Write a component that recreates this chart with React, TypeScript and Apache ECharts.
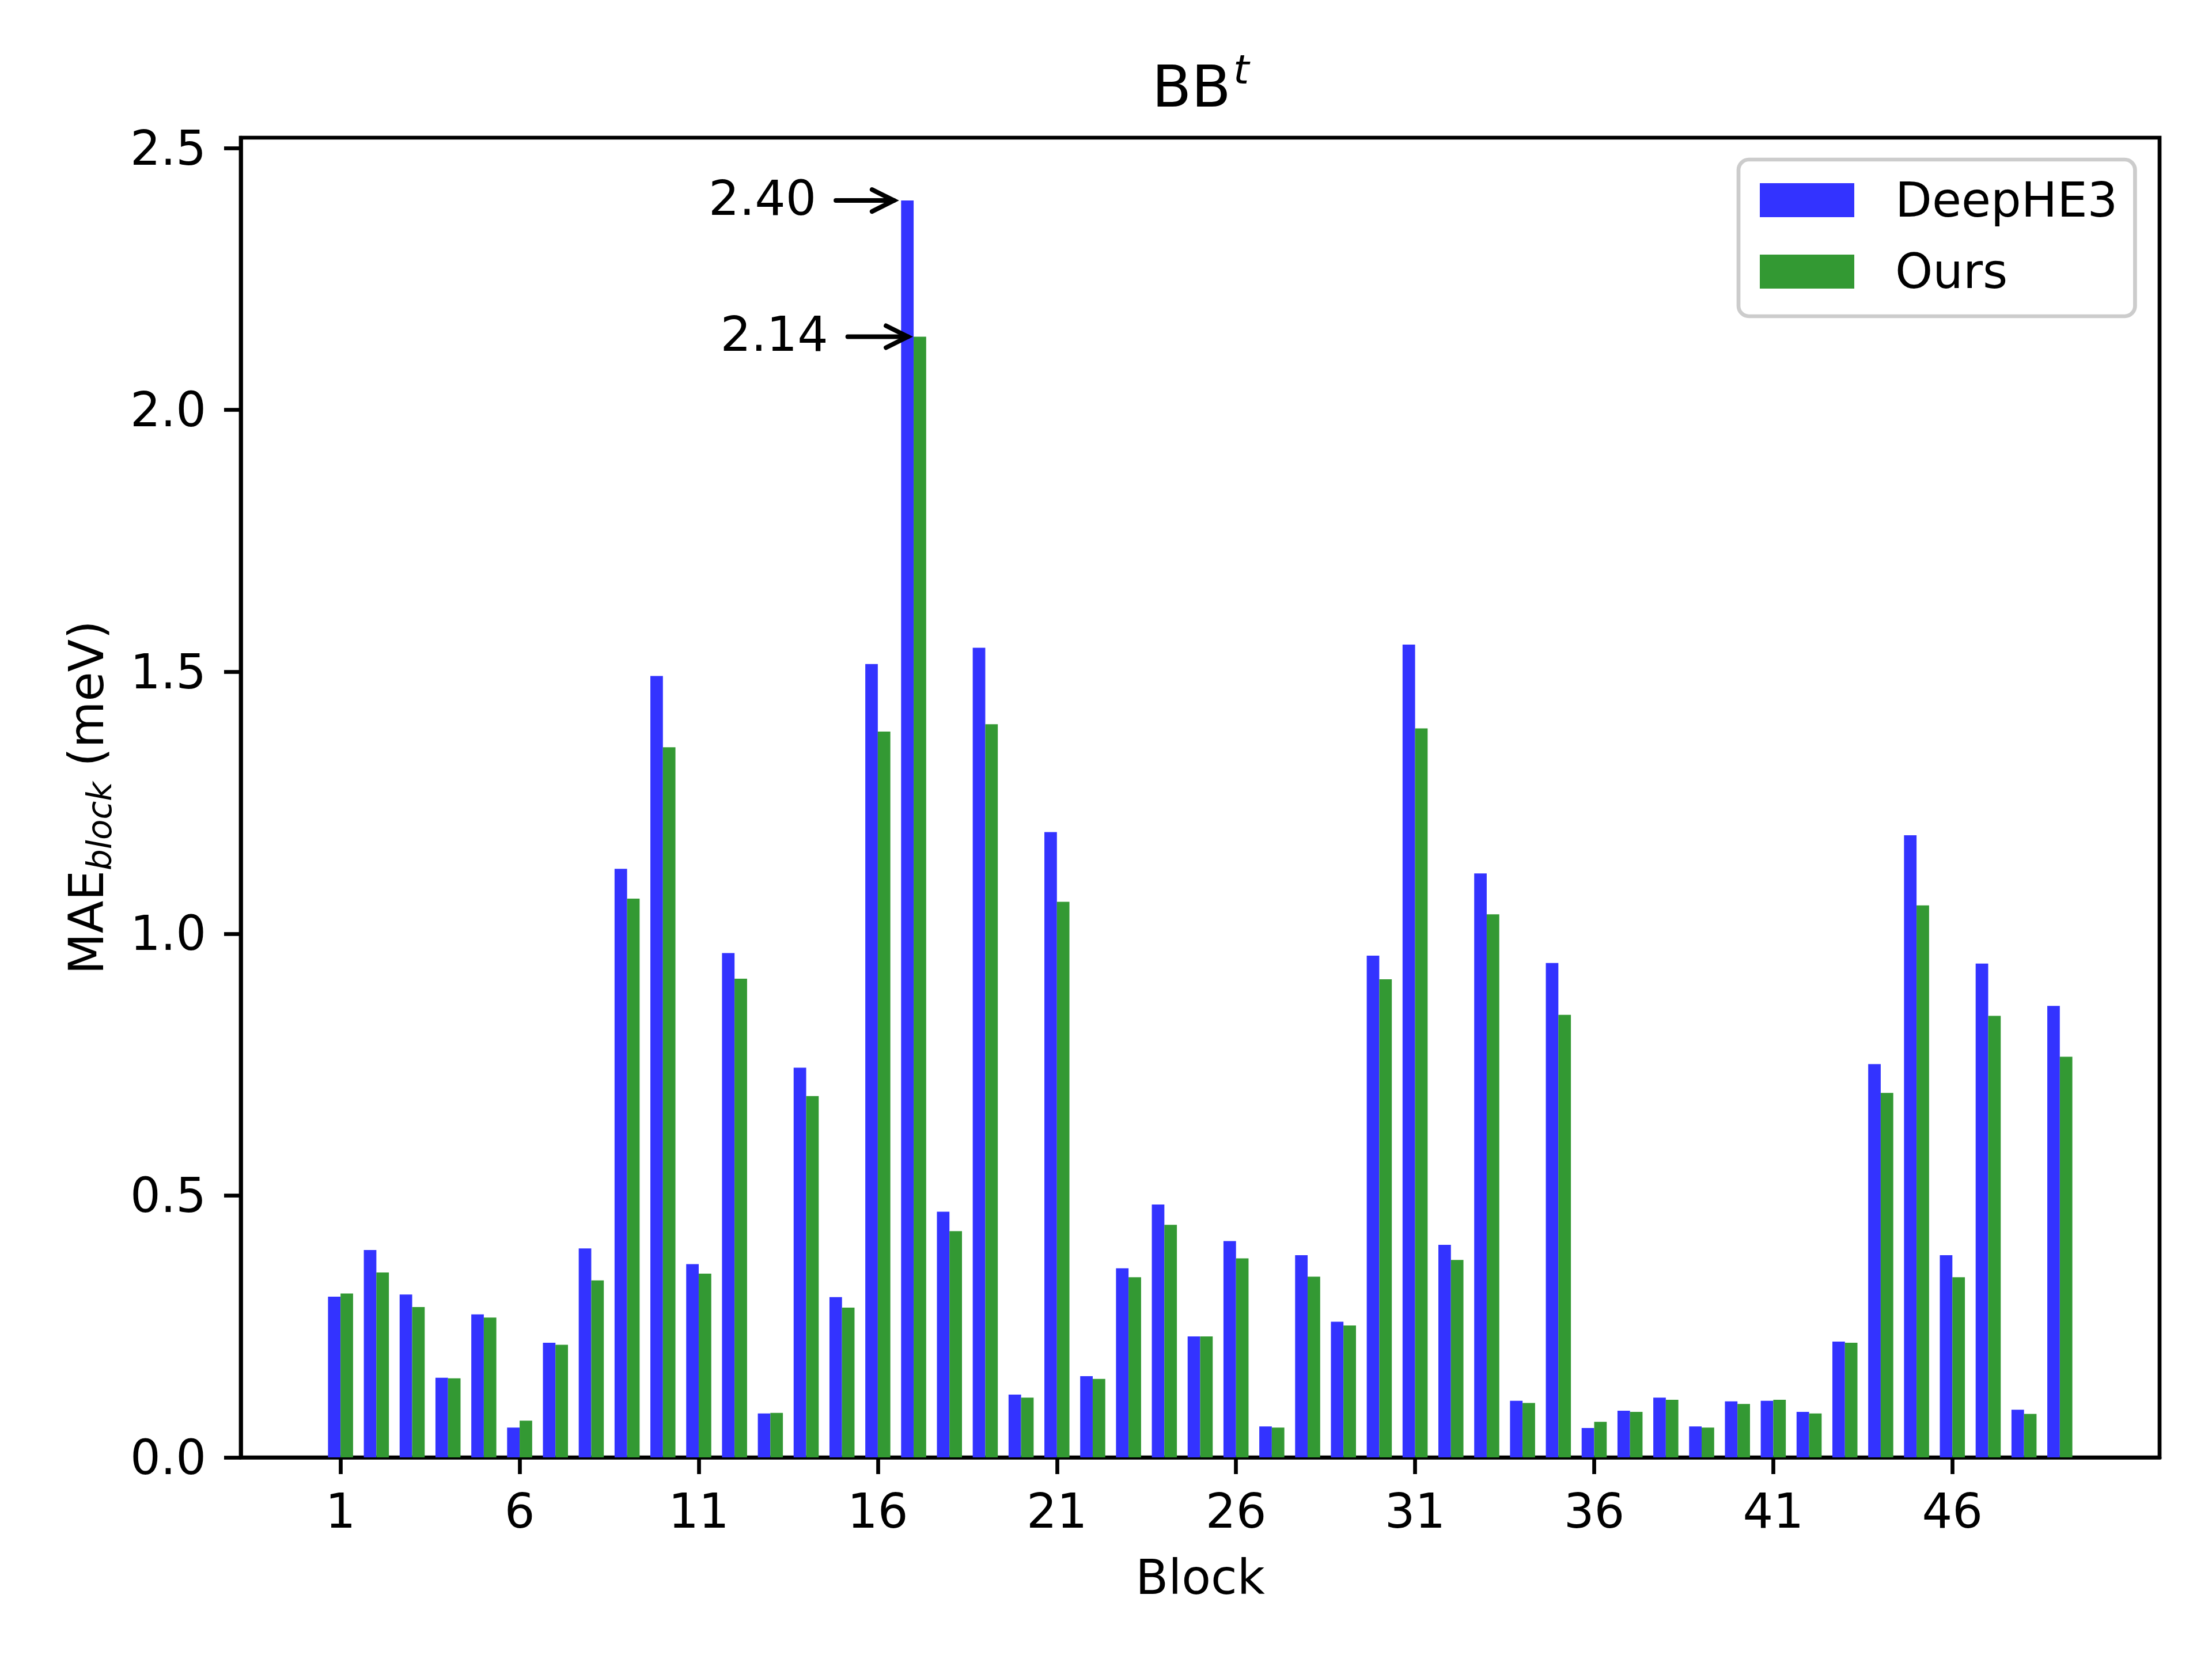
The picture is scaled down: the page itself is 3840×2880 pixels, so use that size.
import React, { useEffect, useRef } from "react";
import * as echarts from "echarts";

const blocks = [1, 2, 3, 4, 5, 6, 7, 8, 9, 10, 11, 12, 13, 14, 15, 16, 17, 18, 19, 20, 21, 22, 23, 24, 25, 26, 27, 28, 29, 30, 31, 32, 33, 34, 35, 36, 37, 38, 39, 40, 41, 42, 43, 44, 45, 46, 47, 48, 49];

const deephe3 = [
  0.307, 0.396, 0.311, 0.152, 0.273, 0.057, 0.219, 0.399, 1.124, 1.492,
  0.369, 0.963, 0.084, 0.744, 0.306, 1.515, 2.40, 0.469, 1.546, 0.120,
  1.194, 0.155, 0.361, 0.483, 0.231, 0.413, 0.059, 0.386, 0.259, 0.958,
  1.552, 0.406, 1.115, 0.108, 0.944, 0.056, 0.089, 0.114, 0.059, 0.107,
  0.108, 0.087, 0.221, 0.751, 1.188, 0.386, 0.943, 0.091, 0.862,
];

const ours = [
  0.313, 0.353, 0.287, 0.151, 0.267, 0.070, 0.215, 0.338, 1.067, 1.356,
  0.351, 0.914, 0.085, 0.690, 0.286, 1.386, 2.14, 0.432, 1.400, 0.114,
  1.061, 0.150, 0.344, 0.444, 0.231, 0.380, 0.057, 0.345, 0.252, 0.913,
  1.392, 0.377, 1.037, 0.104, 0.845, 0.068, 0.087, 0.110, 0.057, 0.102,
  0.110, 0.084, 0.219, 0.696, 1.054, 0.344, 0.843, 0.083, 0.765,
];

const xTicks = [1, 6, 11, 16, 21, 26, 31, 36, 41, 46];
const yTicks = [0, 0.5, 1.0, 1.5, 2.0, 2.5];

const annoLabels = ["2.40", "2.14"];
const annoValues = [2.40, 2.14];
const annoTipX = [16.45, 16.84];
const annoTailX = [14.83, 15.16];

const FONT = "DejaVu Sans";
const BLUE = "#3333ff";
const GREEN = "#339933";
const BAR_W = 0.35;
const LW = 6.7;

function barRenderer(offset: number, color: string) {
  return (params: any, api: any) => {
    const x = api.value(0);
    const y = api.value(1);
    const p1 = api.coord([x + offset, y]);
    const p0 = api.coord([x + offset + BAR_W, 0]);
    return {
      type: "rect",
      shape: { x: p1[0], y: p1[1], width: p0[0] - p1[0], height: p0[1] - p1[1] },
      style: { fill: color },
    };
  };
}

function annoRenderer(params: any, api: any) {
  const tipX = api.value(0);
  const y = api.value(1);
  const tailX = api.value(2);
  const idx = api.value(3);
  const tip = api.coord([tipX, y]);
  const tail = api.coord([tailX, y]);
  return {
    type: "group",
    children: [
      {
        type: "line",
        shape: { x1: tail[0], y1: tail[1], x2: tip[0], y2: tip[1] },
        style: { stroke: "#000", lineWidth: 8, lineCap: "round" },
      },
      {
        type: "polyline",
        shape: {
          points: [
            [tip[0] - 38, tip[1] - 19],
            [tip[0], tip[1]],
            [tip[0] - 38, tip[1] + 19],
          ],
        },
        style: { stroke: "#000", lineWidth: 8, fill: "none", lineJoin: "miter", lineCap: "round" },
      },
      {
        type: "text",
        x: tail[0] - 34,
        y: tail[1] - 4,
        style: {
          text: annoLabels[idx],
          fontSize: 84,
          fontFamily: FONT,
          fill: "#000",
          align: "right",
          verticalAlign: "middle",
        },
      },
    ],
  };
}

export default function App() {
  const ref = useRef<HTMLDivElement>(null);

  useEffect(() => {
    if (!ref.current) return;
    const chart = echarts.init(ref.current, null, { renderer: "svg" });
    const option: any = {
      animation: false,
      backgroundColor: "#ffffff",
      textStyle: { fontFamily: FONT },
      grid: {
        left: 418,
        top: 239,
        right: 91,
        bottom: 350,
        show: true,
        borderColor: "#000",
        borderWidth: LW,
        backgroundColor: "transparent",
      },
      graphic: [
        {
          type: "text",
          x: 2084,
          y: 150,
          style: {
            text: "{a|BB}{b|t}",
            align: "center",
            verticalAlign: "middle",
            rich: {
              a: { fontSize: 100, fontFamily: FONT, fill: "#000", lineHeight: 100, verticalAlign: "middle" },
              b: {
                fontSize: 70,
                fontFamily: FONT,
                fontStyle: "italic",
                fill: "#000",
                lineHeight: 70,
                verticalAlign: "middle",
                padding: [0, 0, 58, 4],
              },
            },
          },
        },
      ],
      legend: {
        orient: "vertical",
        left: 3018,
        top: 277,
        data: [
          { name: "DeepHE3", icon: "rect" },
          { name: "Ours", icon: "rect" },
        ],
        itemWidth: 164,
        itemHeight: 59,
        itemGap: 41,
        padding: [29, 30, 36, 37],
        backgroundColor: "#ffffff",
        borderColor: "#cccccc",
        borderWidth: LW,
        borderRadius: 18,
        formatter: (name: string) => `{t|${name}}`,
        textStyle: {
          fontSize: 83,
          fontFamily: FONT,
          color: "#000",
          rich: {
            t: { fontSize: 83, fontFamily: FONT, color: "#000", lineHeight: 90, padding: [0, 0, 0, 66] },
          },
        },
      },
      xAxis: {
        type: "value",
        min: -1.785,
        max: 51.785,
        name: "Block",
        nameLocation: "middle",
        nameGap: 167,
        nameTextStyle: { fontSize: 83, fontFamily: FONT, color: "#000" },
        axisLine: { show: true, onZero: false, lineStyle: { color: "#000", width: LW } },
        axisTick: { show: true, length: 29, customValues: xTicks, lineStyle: { color: "#000", width: LW } },
        axisLabel: { customValues: xTicks, fontSize: 83, fontFamily: FONT, color: "#000", margin: 52 },
        splitLine: { show: false },
      },
      yAxis: {
        type: "value",
        min: 0,
        max: 2.52,
        name: "{m|MAE}{s|block}{m| (meV)}",
        nameLocation: "middle",
        nameRotate: 90,
        nameGap: 226,
        nameTextStyle: {
          fontSize: 83,
          fontFamily: FONT,
          color: "#000",
          rich: {
            m: { fontSize: 83, fontFamily: FONT, color: "#000", lineHeight: 83, verticalAlign: "middle" },
            s: {
              fontSize: 58,
              fontFamily: FONT,
              fontStyle: "italic",
              color: "#000",
              lineHeight: 58,
              verticalAlign: "middle",
              padding: [44, 0, 0, 0],
            },
          },
        },
        axisLine: { show: true, onZero: false, lineStyle: { color: "#000", width: LW } },
        axisTick: { show: true, length: 29, customValues: yTicks, lineStyle: { color: "#000", width: LW } },
        axisLabel: {
          customValues: yTicks,
          fontSize: 83,
          fontFamily: FONT,
          color: "#000",
          margin: 60,
          formatter: (v: number) => v.toFixed(1),
        },
        splitLine: { show: false },
      },
      series: [
        {
          type: "custom",
          name: "DeepHE3",
          itemStyle: { color: BLUE },
          data: blocks.map((b, i) => [b, deephe3[i]]),
          encode: { x: 0, y: 1 },
          renderItem: barRenderer(-BAR_W, BLUE),
        },
        {
          type: "custom",
          name: "Ours",
          itemStyle: { color: GREEN },
          data: blocks.map((b, i) => [b, ours[i]]),
          encode: { x: 0, y: 1 },
          renderItem: barRenderer(0, GREEN),
        },
        {
          type: "custom",
          name: "annotations",
          data: annoValues.map((v, i) => [annoTipX[i], v, annoTailX[i], i]),
          encode: { x: 0, y: 1 },
          renderItem: annoRenderer,
          z: 5,
        },
      ],
    };
    chart.setOption(option);
    return () => chart.dispose();
  }, []);

  return (
    <div
      ref={ref}
      style={{ position: "absolute", left: 0, top: 0, width: 3840, height: 2880, background: "#fff" }}
    />
  );
}
